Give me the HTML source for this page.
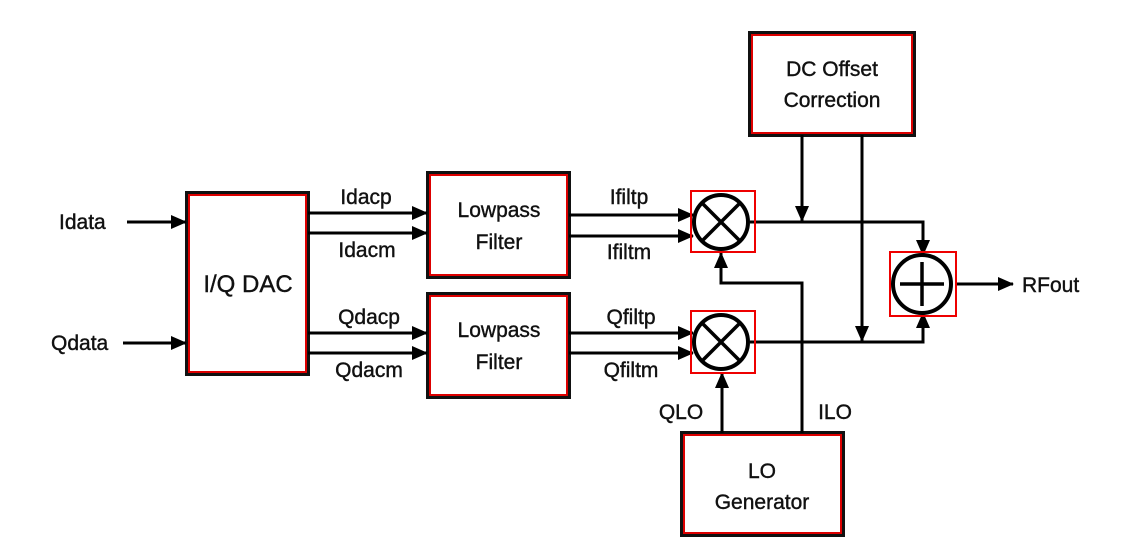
<!DOCTYPE html>
<html><head><meta charset="utf-8"><style>
html,body{margin:0;padding:0;background:#fff;}
svg{display:block;}
text{font-family:"Liberation Sans",Arial,sans-serif;font-size:21px;fill:#111;stroke:#111;stroke-width:0.4px;}
</style></head><body>
<svg width="1137" height="555" viewBox="0 0 1137 555" xmlns="http://www.w3.org/2000/svg">
<defs>
<marker id="b" markerWidth="16" markerHeight="16" refX="15" refY="8" orient="auto" markerUnits="userSpaceOnUse">
<path d="M0,1 L16,8 L0,15 z" fill="#000"/></marker>
</defs>
<g fill="#fff">
<rect x="187" y="193" width="121" height="181" stroke="#111" stroke-width="4"/>
<rect x="189" y="195" width="117" height="177" stroke="#d00" stroke-width="2" fill="none"/>
<rect x="428" y="173" width="141" height="104" stroke="#111" stroke-width="4"/>
<rect x="430" y="175" width="137" height="100" stroke="#d00" stroke-width="2" fill="none"/>
<rect x="428" y="294" width="141" height="103" stroke="#111" stroke-width="4"/>
<rect x="430" y="296" width="137" height="99" stroke="#d00" stroke-width="2" fill="none"/>
<rect x="750" y="33" width="164" height="102" stroke="#111" stroke-width="4"/>
<rect x="752" y="35" width="160" height="98" stroke="#d00" stroke-width="2" fill="none"/>
<rect x="682" y="433" width="161" height="102" stroke="#111" stroke-width="4"/>
<rect x="684" y="435" width="157" height="98" stroke="#d00" stroke-width="2" fill="none"/>
</g>
<g stroke="#000" stroke-width="3" fill="none">
<line x1="127" y1="222" x2="186" y2="222" marker-end="url(#b)"/>
<line x1="123" y1="343" x2="186" y2="343" marker-end="url(#b)"/>
<line x1="308" y1="213" x2="427" y2="213" marker-end="url(#b)"/>
<line x1="308" y1="233" x2="427" y2="233" marker-end="url(#b)"/>
<line x1="308" y1="333" x2="427" y2="333" marker-end="url(#b)"/>
<line x1="308" y1="353" x2="427" y2="353" marker-end="url(#b)"/>
<line x1="569" y1="215" x2="693" y2="215" marker-end="url(#b)"/>
<line x1="569" y1="236" x2="693" y2="236" marker-end="url(#b)"/>
<line x1="569" y1="333" x2="693" y2="333" marker-end="url(#b)"/>
<line x1="569" y1="353" x2="693" y2="353" marker-end="url(#b)"/>
<line x1="802" y1="135" x2="802" y2="221" marker-end="url(#b)"/>
<line x1="862" y1="135" x2="862" y2="341" marker-end="url(#b)"/>
<polyline points="750,222 923,222 923,255" marker-end="url(#b)"/>
<polyline points="750,342 923,342 923,313" marker-end="url(#b)"/>
<line x1="956" y1="284" x2="1013" y2="284" marker-end="url(#b)"/>
<polyline points="802,433 802,283 721,283 721,253" marker-end="url(#b)"/>
<line x1="722" y1="433" x2="722" y2="373" marker-end="url(#b)"/>
</g>
<g stroke="#000" stroke-width="4" fill="#fff">
<circle cx="721" cy="222" r="27"/>
<circle cx="721" cy="342" r="27"/>
<circle cx="922" cy="284" r="29"/>
</g>
<g stroke="#000" stroke-width="3.5">
<line x1="702" y1="203" x2="740" y2="241"/><line x1="740" y1="203" x2="702" y2="241"/>
<line x1="702" y1="323" x2="740" y2="361"/><line x1="740" y1="323" x2="702" y2="361"/>
<line x1="900" y1="284" x2="944" y2="284"/><line x1="922" y1="262" x2="922" y2="306"/>
</g>
<g stroke="#e00" stroke-width="2" fill="none">
<rect x="691" y="191" width="64" height="61"/>
<rect x="691" y="311" width="64" height="62"/>
<rect x="890" y="252" width="66" height="64"/>
</g>
<text x="59" y="229">Idata</text>
<text x="51" y="350">Qdata</text>
<text x="248" y="292" text-anchor="middle" style="font-size:24px">I/Q DAC</text>
<text x="366" y="204" text-anchor="middle">Idacp</text>
<text x="367" y="257" text-anchor="middle">Idacm</text>
<text x="369" y="324" text-anchor="middle">Qdacp</text>
<text x="369" y="377" text-anchor="middle">Qdacm</text>
<text x="499" y="217" text-anchor="middle">Lowpass</text>
<text x="499" y="249" text-anchor="middle">Filter</text>
<text x="499" y="337" text-anchor="middle">Lowpass</text>
<text x="499" y="369" text-anchor="middle">Filter</text>
<text x="629" y="204" text-anchor="middle">Ifiltp</text>
<text x="629" y="259" text-anchor="middle">Ifiltm</text>
<text x="631" y="324" text-anchor="middle">Qfiltp</text>
<text x="631" y="377" text-anchor="middle">Qfiltm</text>
<text x="832" y="76" text-anchor="middle">DC Offset</text>
<text x="832" y="107" text-anchor="middle">Correction</text>
<text x="762" y="478" text-anchor="middle">LO</text>
<text x="762" y="509" text-anchor="middle">Generator</text>
<text x="681" y="419" text-anchor="middle">QLO</text>
<text x="835" y="419" text-anchor="middle">ILO</text>
<text x="1022" y="292">RFout</text>
</svg>
</body></html>
